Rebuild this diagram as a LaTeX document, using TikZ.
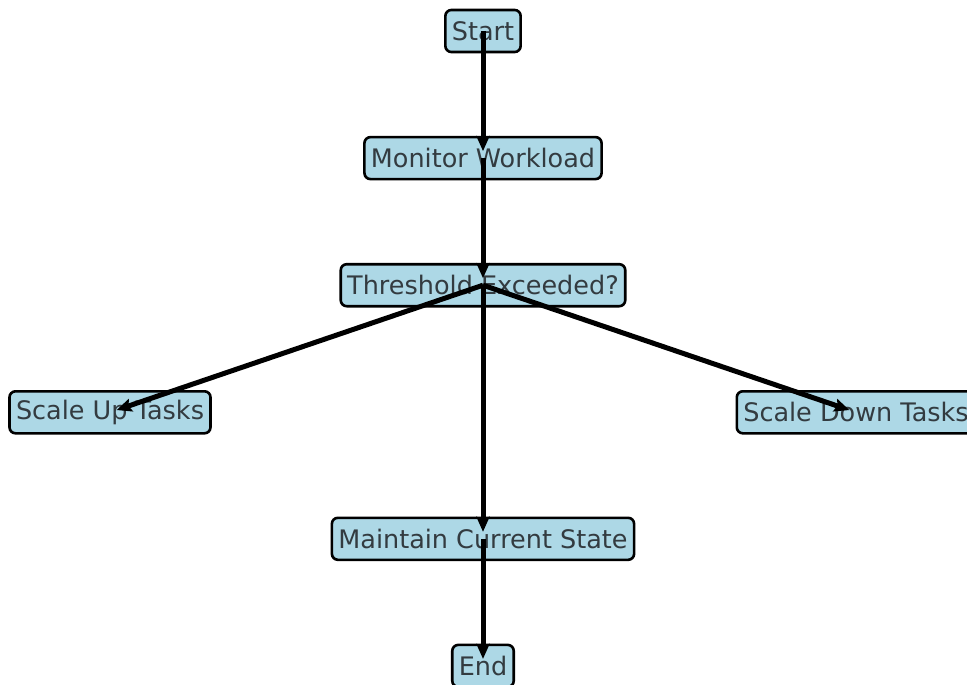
\documentclass[tikz,border=0pt]{standalone}
\usepackage{fontspec}
\setmainfont{DejaVu Sans}
\usetikzlibrary{arrows.meta, positioning}
\definecolor{boxblue}{HTML}{ADD8E6}
\definecolor{boxtext}{HTML}{333B40}
\tikzset{
  box/.style={rectangle, draw, line width=2.6pt, fill=boxblue, rounded corners=6pt, minimum height=42pt, inner xsep=6.5pt, inner ysep=0pt, text=boxtext, font=\fontsize{25.5}{28}\selectfont},
  arrow/.style={-{Stealth[length=15pt, width=13pt, inset=2.5pt]}, line width=5pt, shorten >=7pt}
}

\begin{document}
\begin{tikzpicture}[x=1pt, y=-1pt, node distance=82.5pt]
\useasboundingbox (0,0) rectangle (967,685);
\clip (0,0) rectangle (967,685);

% Start and monitor
\node[box] (start) at (483,31) {Start};
\node[box, below=of start] (monitor) {Monitor Workload};

% Decision
\node[box, below=of monitor] (thresh) {Threshold Exceeded?};

% Scaling branches
\node[box, below=of thresh, xshift=-373pt] (scaleup) {Scale Up Tasks};
\node[box, below=of thresh, xshift=373pt] (scaledown) {Scale Down Tasks};

% Maintain and end
\node[box, below=209pt of thresh] (maintain) {Maintain Current State};
\node[box, below=of maintain] (end) {End};

% Connections
\draw[arrow] (start.center) -- (monitor.center);
\draw[arrow] (monitor.center) -- (thresh.center);
\draw[arrow] (thresh.center) -- (scaleup.center);
\draw[arrow] (thresh.center) -- (scaledown.center);
\draw[arrow] (thresh.center) -- (maintain.center);
\draw[arrow] (maintain.center) -- (end.center);

\end{tikzpicture}
\end{document}
